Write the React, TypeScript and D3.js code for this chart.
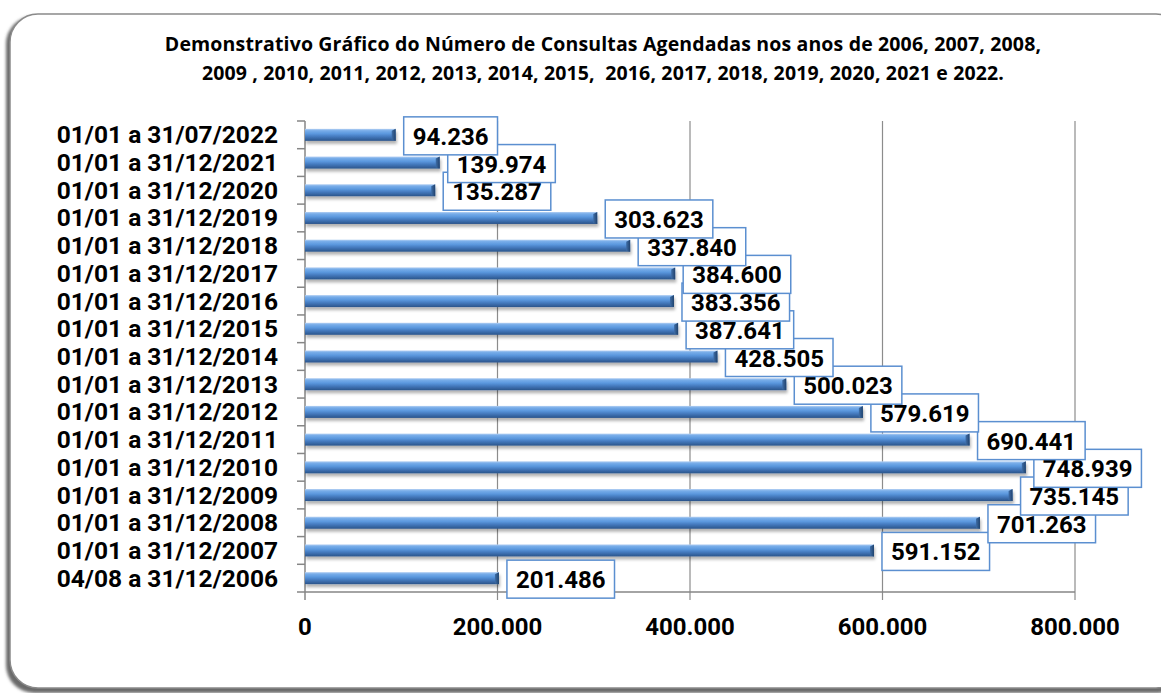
import React from "react";
import * as d3 from "d3";

const titleLines = [
  "Demonstrativo Gráfico do Número de Consultas Agendadas nos anos de 2006, 2007, 2008,",
  "2009 , 2010, 2011, 2012, 2013, 2014, 2015,  2016, 2017, 2018, 2019, 2020, 2021 e 2022.",
];

const periods = [
  "01/01 a 31/07/2022",
  "01/01 a 31/12/2021",
  "01/01 a 31/12/2020",
  "01/01 a 31/12/2019",
  "01/01 a 31/12/2018",
  "01/01 a 31/12/2017",
  "01/01 a 31/12/2016",
  "01/01 a 31/12/2015",
  "01/01 a 31/12/2014",
  "01/01 a 31/12/2013",
  "01/01 a 31/12/2012",
  "01/01 a 31/12/2011",
  "01/01 a 31/12/2010",
  "01/01 a 31/12/2009",
  "01/01 a 31/12/2008",
  "01/01 a 31/12/2007",
  "04/08 a 31/12/2006",
];

const consultas = [
  94236, 139974, 135287, 303623, 337840, 384600, 383356, 387641, 428505,
  500023, 579619, 690441, 748939, 735145, 701263, 591152, 201486,
];

const xTicks = [0, 200000, 400000, 600000, 800000];

const FONT = "Roboto, 'Open Sans', sans-serif";
const TITLE_FONT = "'Open Sans', Roboto, sans-serif";

const locale = d3.formatLocale({
  decimal: ",",
  thousands: ".",
  grouping: [3],
  currency: ["", ""],
});
const fmt = locale.format(",d");

let ctx: CanvasRenderingContext2D | null = null;
function measure(text: string, font: string): number {
  if (!ctx) {
    const c = document.createElement("canvas");
    ctx = c.getContext("2d");
  }
  if (!ctx) return text.length * 13;
  ctx.font = font;
  return ctx.measureText(text).width;
}

export default function App() {
  const W = 1161;
  const H = 693;
  const x = d3.scaleLinear().domain([0, 800000]).range([305, 1075]);
  const y = d3.scaleBand<string>().domain(periods).range([121, 592]).padding(0);
  const bw = y.bandwidth();
  const barH = 12;
  const data = periods.map((p, i) => ({ p, v: consultas[i] }));
  const labelFont = `bold 24px ${FONT}`;

  return (
    <svg
      width={W}
      height={H}
      style={{ position: "absolute", left: 0, top: 0, background: "#fff" }}
    >
      <defs>
        <linearGradient id="barGrad" x1="0" y1="0" x2="0" y2="1">
          <stop offset="0%" stopColor="#b4d0f3" />
          <stop offset="15%" stopColor="#78ade9" />
          <stop offset="40%" stopColor="#5b98de" />
          <stop offset="65%" stopColor="#4479bd" />
          <stop offset="100%" stopColor="#2a548a" />
        </linearGradient>
        <linearGradient id="capGrad" x1="0" y1="0" x2="1" y2="0">
          <stop offset="0%" stopColor="#3f6ea8" />
          <stop offset="100%" stopColor="#20426d" />
        </linearGradient>
        <filter id="barShadow" x="-5%" y="-50%" width="110%" height="250%">
          <feDropShadow dx="1" dy="3" stdDeviation="1.6" floodColor="#000" floodOpacity="0.3" />
        </filter>
        <filter id="frameShadow" x="-5%" y="-5%" width="110%" height="110%">
          <feGaussianBlur stdDeviation="1.5" />
        </filter>
      </defs>

      {/* frame */}
      <rect
        x={6}
        y={16}
        width={1180}
        height={677}
        rx={28}
        ry={28}
        fill="#6a6a6a"
        filter="url(#frameShadow)"
      />
      <rect
        x={10}
        y={14}
        width={1174}
        height={674}
        rx={28}
        ry={28}
        fill="#fff"
        stroke="#8a8a8a"
        strokeWidth={1.5}
      />

      {/* title */}
      {titleLines.map((t, i) => (
        <text
          key={i}
          x={603}
          y={51 + i * 29}
          textAnchor="middle"
          fontFamily={TITLE_FONT}
          fontWeight="bold"
          fontSize={19.5}
          letterSpacing={0.15}
          fill="#000"
          style={{ whiteSpace: "pre" }}
        >
          {t}
        </text>
      ))}

      {/* gridlines */}
      {xTicks.slice(1).map((t) => (
        <line
          key={t}
          x1={x(t)}
          x2={x(t)}
          y1={121}
          y2={600}
          stroke="#8c8c8c"
          strokeWidth={1.2}
        />
      ))}

      {/* axes */}
      <line x1={x(0)} x2={x(0)} y1={121} y2={600} stroke="#868686" strokeWidth={1.5} />
      <line x1={x(0)} x2={x(800000)} y1={592} y2={592} stroke="#868686" strokeWidth={1.5} />
      {periods.map((p) => (
        <line
          key={"t" + p}
          x1={x(0) - 8}
          x2={x(0)}
          y1={y(p)!}
          y2={y(p)!}
          stroke="#868686"
          strokeWidth={1.5}
        />
      ))}
      <line x1={x(0) - 8} x2={x(0)} y1={592} y2={592} stroke="#868686" strokeWidth={1.5} />

      {/* x tick labels */}
      {xTicks.map((t) => (
        <text
          key={"xl" + t}
          x={x(t)}
          y={635}
          textAnchor="middle"
          fontFamily={FONT}
          fontWeight="bold"
          fontSize={24}
          fill="#000"
        >
          {fmt(t)}
        </text>
      ))}

      {/* category labels */}
      {periods.map((p) => (
        <text
          key={"cl" + p}
          x={278}
          y={y(p)! + bw / 2 + 8.5}
          textAnchor="end"
          fontFamily={FONT}
          fontWeight="bold"
          fontSize={24.5}
          fill="#000"
        >
          {p}
        </text>
      ))}

      {/* bars */}
      {data.map((d) => {
        const by = y(d.p)! + (bw - barH) / 2;
        const x0 = x(0);
        const x1 = x(d.v);
        return (
          <g key={"b" + d.p} filter="url(#barShadow)">
            <rect x={x0} y={by} width={x1 - x0} height={barH} fill="url(#barGrad)" />
            <path
              d={`M${x1 - 4},${by + 2} L${x1},${by} L${x1},${by + barH} L${x1 - 4},${by + barH - 1} Z`}
              fill="url(#capGrad)"
            />
          </g>
        );
      })}

      {/* data labels, drawn bottom-first */}
      {data
        .slice()
        .reverse()
        .map((d) => {
          const label = fmt(d.v);
          const tw = measure(label, labelFont);
          const boxW = tw + 18;
          const boxH = 38;
          const cy = y(d.p)! + bw / 2 + 1;
          const bx = x(d.v) + 8;
          return (
            <g key={"l" + d.p}>
              <rect
                x={bx}
                y={cy - boxH / 2}
                width={boxW}
                height={boxH}
                fill="#fff"
                stroke="#5b8fd0"
                strokeWidth={1.5}
              />
              <text
                x={bx + boxW / 2}
                y={cy + 9}
                textAnchor="middle"
                fontFamily={FONT}
                fontWeight="bold"
                fontSize={24}
                fill="#000"
              >
                {label}
              </text>
            </g>
          );
        })}
    </svg>
  );
}
